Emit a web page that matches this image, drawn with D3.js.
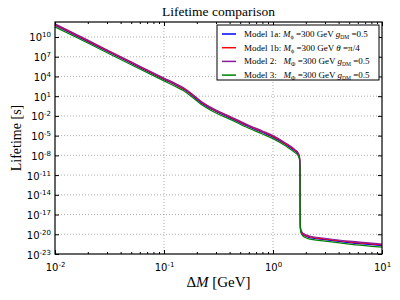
<!DOCTYPE html>
<html>
<head>
<meta charset="utf-8">
<script src="https://cdn.jsdelivr.net/npm/d3@7"></script>
<style>
  body { margin: 0; background: #fff; }
  text { white-space: pre; }
</style>
</head>
<body>
<svg id="chart" width="400" height="300"></svg>
<script>
// mass splitting values (GeV)
const deltaM = [0.01, 0.02, 0.05, 0.1, 0.13, 0.15, 0.18, 0.22, 0.3, 0.4, 0.6, 0.8, 1.0, 1.3, 1.6, 1.7, 1.75, 1.77, 1.775, 1.78, 1.8, 1.9, 2.2, 3, 5, 10];
// lifetimes (s)
const model1a = [6.0e11, 2.0e9, 1.0e6, 3.5e3, 4.3e2, 1.2e2, 1.4e1, 9.5e-1, 4.8e-2, 5.4e-3, 2.3e-4, 3.0e-5, 6.0e-6, 4.8e-7, 4.1e-8, 1.5e-8, 3.8e-9, 1.9e-10, 6.0e-15, 1.9e-19, 3.0e-20, 7.6e-21, 3.0e-21, 1.5e-21, 5.3e-22, 1.9e-22];
const model1b = [7.6e11, 2.5e9, 1.3e6, 4.4e3, 5.4e2, 1.5e2, 1.8e1, 1.2e0, 6.0e-2, 6.8e-3, 2.9e-4, 3.8e-5, 7.6e-6, 6.0e-7, 5.2e-8, 1.9e-8, 4.8e-9, 2.4e-10, 7.6e-15, 2.4e-19, 3.8e-20, 9.5e-21, 3.8e-21, 1.9e-21, 6.8e-22, 2.4e-22];
const model2 = [1.0e12, 3.3e9, 1.7e6, 5.8e3, 7.1e2, 2.0e2, 2.3e1, 1.6e0, 7.9e-2, 8.9e-3, 3.8e-4, 5.0e-5, 1.0e-5, 7.9e-7, 6.9e-8, 2.5e-8, 6.3e-9, 3.2e-10, 1.0e-14, 3.2e-19, 5.0e-20, 1.3e-20, 5.0e-21, 2.5e-21, 8.9e-22, 3.2e-22];
const model3 = [3.5e11, 1.2e9, 6.0e5, 2.1e3, 2.5e2, 7.1e1, 8.1e0, 5.6e-1, 2.8e-2, 3.2e-3, 1.3e-4, 1.8e-5, 3.5e-6, 2.8e-7, 2.4e-8, 8.9e-9, 2.2e-9, 1.1e-10, 3.5e-15, 1.1e-19, 1.8e-20, 4.5e-21, 1.8e-21, 8.9e-22, 3.2e-22, 1.1e-22];

const seriesNames = ["Model 1a", "Model 1b", "Model 2", "Model 3"];
const seriesColors = ["#0000ff", "#ff0000", "#8b1a9b", "#008000"];
const seriesData = [model1a, model1b, model2, model3];

// tick positions
const xMajor = [0.01, 0.1, 1, 10];
const xExp = ["-2", "-1", "0", "1"];
const yExp = [-23, -20, -17, -14, -11, -8, -5, -2, 1, 4, 7, 10];

const svg = d3.select("#chart");
const pLeft = 55, pRight = 382, pTop = 22, pBottom = 254;

const x = d3.scaleLog().domain([0.01, 10]).range([pLeft, pRight]);
const y = d3.scaleLog().domain([1e-23, Math.pow(10, 12.28)]).range([pBottom, pTop]);

// dotted grid on the major ticks
xMajor.slice(1, -1).forEach(function (v) {
    svg.append("line")
    .attr("x1", x(v)).attr("x2", x(v))
    .attr("y1", pTop).attr("y2", pBottom)
    .attr("stroke", "#999").attr("stroke-width", 0.8)
    .attr("stroke-dasharray", "1,2");
});
yExp.slice(1).forEach(function (e) {
    let v = Math.pow(10, e);
    svg.append("line")
    .attr("x1", pLeft).attr("x2", pRight)
    .attr("y1", y(v)).attr("y2", y(v))
    .attr("stroke", "#999").attr("stroke-width", 0.8)
    .attr("stroke-dasharray", "1,2");
});

// the curves
const line = d3.line()
    .x(function (d) { return x(d[0]); })
    .y(function (d) { return y(d[1]); })
    .curve(d3.curveMonotoneX);

seriesData.forEach(function (vals, i) {
    let pts = deltaM.map(function (m, j) { return [m, vals[j]]; });
    svg.append("path")
    .datum(pts)
    .attr("d", line)
    .attr("fill", "none")
    .attr("stroke", seriesColors[i])
    .attr("stroke-width", 1.2);
});

// axes with inward ticks
const yTickVals = yExp.map(function (e) { return Math.pow(10, e); });
const xMinor = [];
[0.01, 0.1, 1].forEach(function (d) {
    for (let k = 2; k < 10; k++) xMinor.push(d * k);
});

function addAxis(axis, tx, ty) {
    return svg.append("g")
    .attr("transform", "translate(" + tx + "," + ty + ")")
    .call(axis)
    .call(function (g) { g.select(".domain").remove(); })
    .call(function (g) { g.selectAll("line").attr("stroke", "#000"); });
}

const xb = addAxis(d3.axisBottom(x).tickValues(xMajor).tickSizeInner(-4).tickSizeOuter(0).tickFormat(""), 0, pBottom);
addAxis(d3.axisTop(x).tickValues(xMajor).tickSizeInner(-4).tickSizeOuter(0).tickFormat(""), 0, pTop);
addAxis(d3.axisBottom(x).tickValues(xMinor).tickSizeInner(-2).tickSizeOuter(0).tickFormat(""), 0, pBottom);
addAxis(d3.axisTop(x).tickValues(xMinor).tickSizeInner(-2).tickSizeOuter(0).tickFormat(""), 0, pTop);
const yl = addAxis(d3.axisLeft(y).tickValues(yTickVals).tickSizeInner(-4).tickSizeOuter(0).tickFormat(""), pLeft, 0);
addAxis(d3.axisRight(y).tickValues(yTickVals).tickSizeInner(-4).tickSizeOuter(0).tickFormat(""), pRight, 0);

// tick labels: 10 with superscript exponent
xb.selectAll(".tick").each(function (d, i) {
    let t = d3.select(this).append("text")
    .attr("y", 17).attr("text-anchor", "middle")
    .attr("fill", "#000")
    .style("font-family", "DejaVu Sans").style("font-size", "10px");
    t.append("tspan").text("10");
    t.append("tspan").attr("dy", -4).style("font-size", "7px").text(xExp[i]);
});
yl.selectAll(".tick").each(function (d, i) {
    let t = d3.select(this).append("text")
    .attr("x", -4).attr("y", 4).attr("text-anchor", "end")
    .attr("fill", "#000")
    .style("font-family", "DejaVu Sans").style("font-size", "10px");
    t.append("tspan").text("10");
    t.append("tspan").attr("dy", -4).style("font-size", "7px").text(String(yExp[i]));
});

// frame
svg.append("rect")
.attr("x", pLeft).attr("y", pTop)
.attr("width", pRight - pLeft).attr("height", pBottom - pTop)
.attr("fill", "none").attr("stroke", "#000").attr("stroke-width", 1.2);

// title and labels
svg.append("text")
.attr("x", (pLeft + pRight) / 2).attr("y", 16)
.attr("text-anchor", "middle")
.style("font-family", "Liberation Serif").style("font-size", "13.5px")
.text("Lifetime comparison");

let xl = svg.append("text")
.attr("x", (pLeft + pRight) / 2).attr("y", 287)
.attr("text-anchor", "middle")
.style("font-family", "Liberation Serif").style("font-size", "15px");
xl.append("tspan").text("Δ");
xl.append("tspan").style("font-style", "italic").text("M");
xl.append("tspan").text(" [GeV]");

svg.append("text")
.attr("transform", "translate(21," + ((pTop + pBottom) / 2) + ") rotate(-90)")
.attr("text-anchor", "middle")
.style("font-family", "Liberation Serif").style("font-size", "14px")
.text("Lifetime [s]");

// legend
const lg = svg.append("g");
lg.append("rect")
.attr("x", 217).attr("y", 25).attr("width", 162).attr("height", 55)
.attr("fill", "#fff").attr("stroke", "#000").attr("stroke-width", 1);

const legendParts = [
    { sub: "ϕ", tail: "g", tailSub: "DM", tailVal: "=0.5", pad: "" },
    { sub: "ϕ", tail: "θ", tailSub: "", tailVal: "=π/4", pad: "" },
    { sub: "Φ", tail: "g", tailSub: "DM", tailVal: "=0.5", pad: "  " },
    { sub: "Φ", tail: "g", tailSub: "DM", tailVal: "=0.5", pad: "  " }
];

seriesNames.forEach(function (name, i) {
    let ly = 34 + i * 13.7;
    lg.append("line")
    .attr("x1", 222).attr("x2", 236)
    .attr("y1", ly).attr("y2", ly)
    .attr("stroke", seriesColors[i]).attr("stroke-width", 1.5);
    let p = legendParts[i];
    let t = lg.append("text")
    .attr("x", 244).attr("y", ly + 3)
    .style("font-family", "Liberation Serif").style("font-size", "9px");
    t.append("tspan").text(name + ":" + p.pad + " ");
    t.append("tspan").style("font-style", "italic").text("M");
    t.append("tspan").attr("dy", 2).style("font-size", "6px").text(p.sub);
    t.append("tspan").attr("dy", -2).text(" =300 GeV ");
    t.append("tspan").style("font-style", "italic").text(p.tail);
    if (p.tailSub) {
        t.append("tspan").attr("dy", 2).style("font-size", "5.5px").text(p.tailSub);
        t.append("tspan").attr("dy", -2).text(" =0.5");
    } else {
        t.append("tspan").text(" " + p.tailVal);
    }
});
</script>
</body>
</html>
